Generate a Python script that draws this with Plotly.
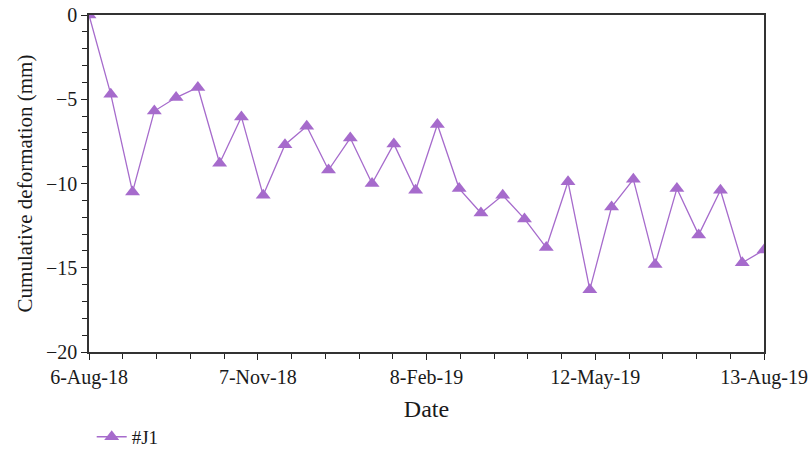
import plotly.graph_objects as go

# Acquisition dates (12-day revisit) and cumulative deformation (mm) for #J1
dates = [
    "2018-08-06", "2018-08-18", "2018-08-30", "2018-09-11", "2018-09-23", "2018-10-05",
    "2018-10-17", "2018-10-29", "2018-11-10", "2018-11-22", "2018-12-04", "2018-12-16",
    "2018-12-28", "2019-01-09", "2019-01-21", "2019-02-02", "2019-02-14", "2019-02-26",
    "2019-03-10", "2019-03-22", "2019-04-03", "2019-04-15", "2019-04-27", "2019-05-09",
    "2019-05-21", "2019-06-02", "2019-06-14", "2019-06-26", "2019-07-08", "2019-07-20",
    "2019-08-01", "2019-08-13", "2019-08-25",
]
deformation = [
    0.0, -4.7, -10.5, -5.7, -4.9, -4.3,
    -8.8, -6.05, -10.7, -7.7, -6.6, -9.2,
    -7.3, -10.0, -7.65, -10.4, -6.5, -10.3,
    -11.75, -10.7, -12.1, -13.8, -9.9, -16.3,
    -11.4, -9.75, -14.8, -10.3, -13.05, -10.4,
    -14.7, -13.95, -13.2,
]
series_name = "#J1"

tick_dates = ["2018-08-06", "2018-11-07", "2019-02-08", "2019-05-12", "2019-08-13"]
tick_labels = ["6-Aug-18", "7-Nov-18", "8-Feb-19", "12-May-19", "13-Aug-19"]

color = "#a66bcc"
font_family = "Liberation Serif, Times New Roman, serif"

fig = go.Figure()
fig.add_trace(go.Scatter(
    x=dates, y=deformation, name=series_name, mode="lines+markers",
    line=dict(color=color, width=1.3),
    marker=dict(symbol="triangle-up", size=13, color=color),
    cliponaxis=True,
))

DAY_MS = 86400000
fig.update_layout(
    width=811, height=449,
    margin=dict(l=89, r=47, t=15, b=97, autoexpand=False),
    paper_bgcolor="white", plot_bgcolor="white",
    font=dict(family=font_family, size=20, color="#1a1a1a"),
    showlegend=True,
    legend=dict(orientation="h", x=0.004, y=-0.252, xanchor="left", yanchor="middle",
                font=dict(size=19), bgcolor="rgba(0,0,0,0)"),
    xaxis=dict(
        type="date", range=["2018-08-06", "2019-08-13"],
        tickvals=tick_dates, ticktext=tick_labels, automargin=False,
        ticks="outside", ticklen=6, tickcolor="#222", tickwidth=1.2,
        showline=True, linecolor="#333", linewidth=1.5, mirror=True,
        showgrid=False, zeroline=False,
        minor=dict(dtick=18.6 * DAY_MS, tick0="2018-08-06", ticks="outside",
                   ticklen=5, tickcolor="#222", tickwidth=1.2, showgrid=False),
        title=dict(text="Date", standoff=12),
    ),
    yaxis=dict(
        range=[-20, 0], dtick=5, tick0=0, automargin=False,
        ticks="outside", ticklen=6, tickcolor="#222", tickwidth=1.2,
        showline=True, linecolor="#333", linewidth=1.5, mirror=True,
        showgrid=False, zeroline=False,
        minor=dict(dtick=1, ticks="outside", ticklen=5, tickcolor="#222",
                   tickwidth=1.2, showgrid=False),
        title=dict(text="Cumulative deformation (mm)", standoff=8,
                   font=dict(family=font_family, size=21)),
    ),
)

fig.write_html("out.html", config={"displayModeBar": False},
               post_script="document.body.style.margin='0';document.body.style.padding='0';")
